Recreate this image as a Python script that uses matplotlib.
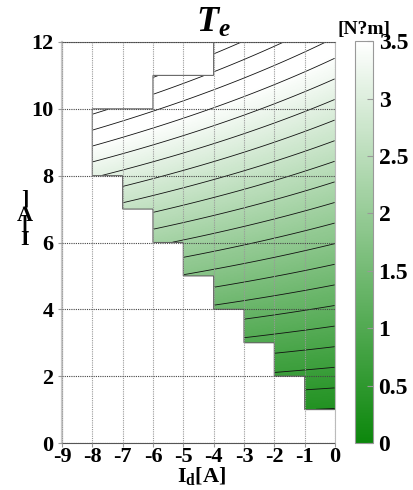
import numpy as np
import matplotlib
matplotlib.use("Agg")
import matplotlib.pyplot as plt
from matplotlib.colors import LinearSegmentedColormap

plt.rcParams['font.family'] = ['Liberation Serif', 'DejaVu Serif']
plt.rcParams['font.weight'] = 'bold'
plt.rcParams['axes.unicode_minus'] = False
plt.rcParams['mathtext.fontset'] = 'custom'
plt.rcParams['mathtext.rm'] = 'Liberation Serif:bold'
plt.rcParams['mathtext.it'] = 'Liberation Serif:italic:bold'
plt.rcParams['mathtext.bf'] = 'Liberation Serif:bold'

# motor parameters (torque map Te = 1.5 p Iq (psi + (Ld - Lq) Id))
pole_pairs = 2
psi_m = 0.1        # Wb
Ld = 0.0060        # H
Lq = 0.0097        # H

# operating region: one column per 1 A of Id, from -9 A to 0 A
id_edges_cols = [-9, -8, -7, -6, -5, -4, -3, -2, -1, 0]
iq_lower = [12, 8, 7, 6, 5, 4, 3, 2, 1]
iq_upper = [12, 10, 10, 11, 11, 12, 12, 12, 12]

x_ticks = [-9, -8, -7, -6, -5, -4, -3, -2, -1, 0]
y_ticks = [0, 2, 4, 6, 8, 10, 12]
cbar_ticks = [0, 0.5, 1, 1.5, 2, 2.5, 3, 3.5]
cbar_labels = ['0', '0.5', '1', '1.5', '2', '2.5', '3', '3.5']
te_levels = np.arange(0.125, 5.0, 0.185)

# fine grid for the map
h = 0.02
id_e = np.arange(-9, 0 + h / 2, h)
iq_e = np.arange(0, 12 + h / 2, h)
id_c = 0.5 * (id_e[:-1] + id_e[1:])
iq_c = 0.5 * (iq_e[:-1] + iq_e[1:])
ID, IQ = np.meshgrid(id_c, iq_c)

col = np.clip(np.floor(ID - id_edges_cols[0]).astype(int), 0, len(iq_lower) - 1)
lo = np.array(iq_lower, dtype=float)[col]
hi = np.array(iq_upper, dtype=float)[col]
outside = (IQ < lo) | (IQ > hi)

te = 1.5 * pole_pairs * IQ * (psi_m + (Ld - Lq) * ID)
te_m = np.ma.masked_where(outside, te)

cmap = LinearSegmentedColormap.from_list('wg', ['#0c870c', '#ffffff'])

fig = plt.figure(figsize=(4.13, 4.9), dpi=100)
ax = fig.add_axes([0.150, 0.0959, 0.661, 0.8184])
cax = fig.add_axes([0.8596, 0.0959, 0.0436, 0.820])

mesh = ax.pcolormesh(id_e, iq_e, te_m, cmap=cmap, vmin=0, vmax=3.5,
                     shading='flat', rasterized=True)
ax.contour(ID, IQ, te_m, levels=te_levels, colors='#111111', linewidths=0.6)
ax.contour(ID, IQ, (~outside).astype(float), levels=[0.5],
           colors='#666666', linewidths=0.8)

ax.set_xlim(-9, 0)
ax.set_ylim(0, 12)
ax.set_xticks(x_ticks)
ax.set_yticks(y_ticks)
ax.tick_params(labelsize=16, length=3, color='#999999')
ax.tick_params(axis='x', pad=0)
ax.tick_params(axis='y', pad=3)
for lab in ax.get_xticklabels() + ax.get_yticklabels():
    lab.set_fontweight('bold')

ax.set_axisbelow(False)
ax.xaxis.grid(True, color='#999999', linestyle=(0, (1, 1)), linewidth=0.8)
ax.yaxis.grid(True, color='#444444', linestyle=(0, (1, 1)), linewidth=0.8)

ax.spines['top'].set_color('#777777')
ax.spines['left'].set_color('#c8c8c8')
ax.spines['left'].set_linewidth(1.6)
ax.spines['bottom'].set_color('#555555')
ax.spines['bottom'].set_linestyle((0, (1, 1)))
ax.spines['right'].set_color('#bbbbbb')
ax.spines['right'].set_linestyle((0, (1, 1)))

cb = fig.colorbar(mesh, cax=cax, ticks=cbar_ticks)
cb.ax.set_yticklabels(cbar_labels)
cb.ax.tick_params(labelsize=17, direction='in', length=4, color='#999999', pad=4)
cb.outline.set_edgecolor('#999999')
cb.outline.set_linewidth(0.8)
for lab in cb.ax.get_yticklabels():
    lab.set_fontweight('bold')

fig.text(0.516, 0.935, r'$T_e$', fontsize=26, ha='center', va='baseline')
fig.text(0.881, 0.930, '[N?m]', fontsize=14, fontweight='bold',
         ha='center', va='baseline')
fig.text(0.489, 0.017, r'$\mathrm{I_d[A]}$', fontsize=16,
         ha='center', va='baseline')

# Iq[A] label, characters stacked
for ch, yy in [(']', 0.592), ('A', 0.559), ('[', 0.541), ('I', 0.510)]:
    fig.text(0.060, yy, ch, fontsize=16, fontweight='bold', ha='center', va='center')

fig.savefig('out.png', dpi=100)
